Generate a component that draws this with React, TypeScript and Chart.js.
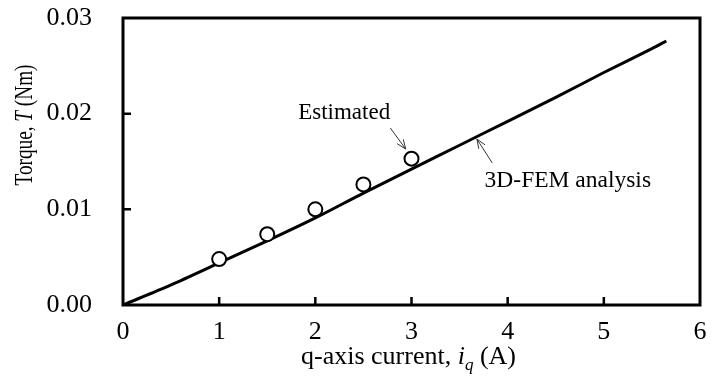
import React, { useEffect, useRef } from "react";
import { Chart, registerables } from "chart.js";
Chart.register(...registerables);

// 3D-FEM analysis curve
const femCurrent = [0, 0.5, 1, 1.5, 2, 2.5, 3, 3.5, 4, 4.5, 5, 5.5, 5.65];
const femTorque = [0, 0.0021, 0.0044, 0.0067, 0.0091, 0.0117, 0.0142, 0.0167, 0.0192, 0.0217, 0.0243, 0.0268, 0.0276];
// Estimated points
const estCurrent = [1, 1.5, 2, 2.5, 3];
const estTorque = [0.0048, 0.0074, 0.01, 0.0126, 0.0153];
// Axes
const xTickValues = [0, 1, 2, 3, 4, 5, 6];
const yTickValues = [0, 0.01, 0.02, 0.03];
const estLabel = "Estimated";
const femLabel = "3D-FEM analysis";

const FONT = '"Liberation Serif", "Times New Roman", serif';

const framePlugin = {
  id: "frame",
  afterDatasetsDraw(chart: any) {
    const { ctx, chartArea: a, scales } = chart;
    const xs = scales.x, ys = scales.y;
    ctx.save();
    ctx.strokeStyle = "#000";
    ctx.lineWidth = 2.5;
    // inward ticks
    ctx.beginPath();
    xTickValues.slice(1, -1).forEach((v) => {
      const px = xs.getPixelForValue(v);
      ctx.moveTo(px, a.bottom);
      ctx.lineTo(px, a.bottom - 8);
    });
    yTickValues.slice(1, -1).forEach((v) => {
      const py = ys.getPixelForValue(v);
      ctx.moveTo(a.left, py);
      ctx.lineTo(a.left + 8, py);
    });
    ctx.stroke();
    ctx.lineWidth = 3;
    ctx.strokeRect(a.left, a.top, a.right - a.left, a.bottom - a.top);

    // annotations
    const P = (x: number, y: number) => [xs.getPixelForValue(x), ys.getPixelForValue(y)];
    const arrow = (tx: number, ty: number, hx: number, hy: number) => {
      const [x0, y0] = P(tx, ty);
      const [x1, y1] = P(hx, hy);
      const ang = Math.atan2(y1 - y0, x1 - x0);
      const L = 10, w = 0.38;
      ctx.beginPath();
      ctx.moveTo(x0, y0);
      ctx.lineTo(x1, y1);
      ctx.moveTo(x1 - L * Math.cos(ang - w), y1 - L * Math.sin(ang - w));
      ctx.lineTo(x1, y1);
      ctx.lineTo(x1 - L * Math.cos(ang + w), y1 - L * Math.sin(ang + w));
      ctx.stroke();
    };
    ctx.strokeStyle = "#333";
    ctx.lineWidth = 1;
    arrow(2.78, 0.0185, 2.94, 0.0163);
    arrow(3.84, 0.01484, 3.68, 0.01735);
    ctx.fillStyle = "#000";
    ctx.font = `23px ${FONT}`;
    ctx.textBaseline = "middle";
    ctx.textAlign = "center";
    const [ex, ey] = P(2.3, 0.0201);
    ctx.fillText(estLabel, ex, ey);
    ctx.textAlign = "left";
    const [fx, fy] = P(3.76, 0.01296);
    ctx.font = `23.5px ${FONT}`;
    ctx.fillText(femLabel, fx, fy);

    // axis titles
    const drawRuns = (runs: [string, string, number][], cx: number, cy: number) => {
      let total = 0;
      runs.forEach(([t, f]) => { ctx.font = f; total += ctx.measureText(t).width; });
      let x = cx - total / 2;
      ctx.textAlign = "left";
      ctx.textBaseline = "alphabetic";
      runs.forEach(([t, f, dy]) => {
        ctx.font = f;
        ctx.fillText(t, x, cy + dy);
        x += ctx.measureText(t).width;
      });
    };
    drawRuns(
      [
        ["q-axis current, ", `26px ${FONT}`, 0],
        ["i", `italic 26px ${FONT}`, 0],
        ["q", `italic 17px ${FONT}`, 6],
        [" (A)", `26px ${FONT}`, 0],
      ],
      (a.left + a.right) / 2 - 3,
      364
    );
    ctx.save();
    ctx.translate(32, 125);
    ctx.rotate(-Math.PI / 2);
    ctx.scale(0.74, 1);
    drawRuns(
      [
        ["Torque, ", `26px ${FONT}`, 0],
        ["T", `italic 26px ${FONT}`, 0],
        [" (Nm)", `26px ${FONT}`, 0],
      ],
      0,
      0
    );
    ctx.restore();
    ctx.restore();
  },
};

export default function App() {
  const ref = useRef<HTMLCanvasElement>(null);
  useEffect(() => {
    const chart = new Chart(ref.current as HTMLCanvasElement, {
      type: "scatter",
      data: {
        datasets: [
          {
            label: estLabel,
            data: estCurrent.map((x, i) => ({ x, y: estTorque[i] })),
            pointStyle: "circle",
            pointRadius: 7,
            pointBorderWidth: 2,
            pointBackgroundColor: "#fff",
            pointBorderColor: "#000",
            showLine: false,
            order: 0,
          },
          {
            label: femLabel,
            data: femCurrent.map((x, i) => ({ x, y: femTorque[i] })),
            showLine: true,
            borderColor: "#000",
            borderWidth: 3,
            pointRadius: 0,
            tension: 0.3,
            order: 1,
          },
        ],
      },
      options: {
        animation: false,
        responsive: false,
        layout: { padding: { top: 18, right: 26, left: 0, bottom: 0 } },
        plugins: { legend: { display: false }, tooltip: { enabled: false } },
        scales: {
          x: {
            type: "linear",
            min: 0,
            max: 6,
            afterFit: (s: any) => { s.height = 71; s.paddingLeft = 0; s.paddingRight = 0; },
            afterBuildTicks: (s: any) => { s.ticks = xTickValues.map((v) => ({ value: v })); },
            grid: { display: false },
            border: { display: false },
            ticks: { color: "#000", padding: 4, font: { family: FONT, size: 26 }, callback: (v: any) => String(v) },
          },
          y: {
            type: "linear",
            min: 0,
            max: 0.03,
            afterFit: (s: any) => { s.width = 123; s.paddingTop = 0; s.paddingBottom = 0; },
            afterBuildTicks: (s: any) => { s.ticks = yTickValues.map((v) => ({ value: v })); },
            grid: { display: false },
            border: { display: false },
            ticks: { color: "#000", padding: 23, font: { family: FONT, size: 26 }, callback: (v: any) => Number(v).toFixed(2) },
          },
        },
      },
      plugins: [framePlugin],
    });
    return () => chart.destroy();
  }, []);
  return (
    <div style={{ position: "fixed", left: 0, top: 0, width: 726, height: 376, background: "#fff" }}>
      <canvas ref={ref} width={726} height={376} style={{ width: 726, height: 376 }} />
    </div>
  );
}
